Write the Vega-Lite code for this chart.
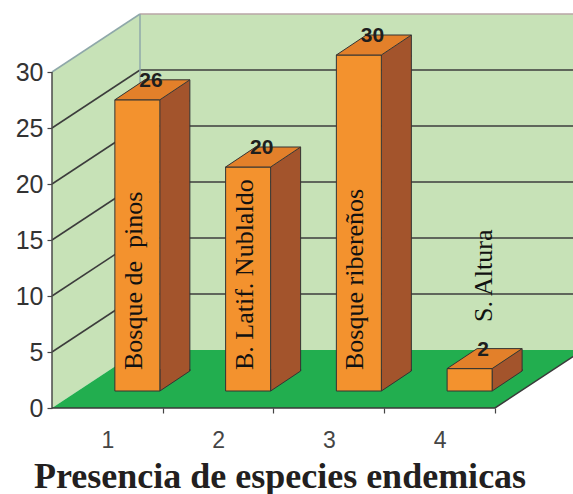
{
  "$schema": "https://vega.github.io/schema/vega-lite/v6.json",
  "width": 521,
  "height": 408,
  "autosize": {"type": "none"},
  "padding": {"left": 52, "top": 0, "right": 0, "bottom": 86},
  "background": "#ffffff",
  "config": {"view": {"stroke": null}},
  "datasets": {
    "bosques": [
      {"categoria": 1, "valor": 26, "nombre": "Bosque de\u00a0 pinos"},
      {"categoria": 2, "valor": 20, "nombre": "B. Latif. Nublaldo"},
      {"categoria": 3, "valor": 30, "nombre": "Bosque ribereños"},
      {"categoria": 4, "valor": 2, "nombre": "S. Altura"}
    ],
    "rejilla": [{"v": 5}, {"v": 10}, {"v": 15}, {"v": 20}, {"v": 25}],
    "uno": [{}]
  },
  "data": {"name": "bosques"},
  "layer": [
    {
      "data": {"name": "uno"},
      "mark": {"type": "rect", "fill": "#C7E2B7", "xOffset": 88, "yOffset": -58, "y2Offset": -58},
      "encoding": {
        "x": {"datum": 0.5, "type": "quantitative",
          "scale": {"domain": [0.5, 5.2043], "nice": false, "zero": false},
          "axis": {"values": [1, 2, 3, 4], "format": "d", "domain": false, "grid": false,
            "ticks": true, "tickSize": 5, "tickColor": "#444444", "tickWidth": 1.2,
            "tickOffset": 55.375, "labelOffset": -55.375,
            "labelFont": "Liberation Sans", "labelFontSize": 23, "labelColor": "#454545",
            "labelPadding": 16, "labelFlush": false, "labelOverlap": false,
            "title": "Presencia de especies endemicas", "titleFont": "Liberation Serif",
            "titleFontSize": 36, "titleFontWeight": "bold", "titleColor": "#231F20",
            "titleX": 227.5, "titleY": 79, "titleAlign": "center", "titleBaseline": "alphabetic"}},
        "x2": {"datum": 5.5},
        "y": {"datum": 0, "type": "quantitative",
          "scale": {"domain": [0, 36.4286], "nice": false, "zero": false},
          "axis": {"values": [0, 5, 10, 15, 20, 25, 30], "domain": false, "grid": false,
            "tickSize": 5, "tickColor": "#444444", "tickWidth": 1.2,
            "labelFont": "Liberation Sans", "labelFontSize": 25, "labelColor": "#333333",
            "labelPadding": 4, "title": null}},
        "y2": {"datum": 30}
      }
    },
    {
      "data": {"name": "uno"},
      "mark": {"type": "point", "shape": "M0,0 L0,-336 L88,-394 L88,-58 Z", "size": 4,
        "filled": true, "fill": "#C7E2B7", "strokeWidth": 0, "opacity": 1},
      "encoding": {
        "x": {"datum": 0.5, "type": "quantitative"},
        "y": {"datum": 0, "type": "quantitative"}
      }
    },
    {
      "data": {"name": "uno"},
      "mark": {"type": "point", "shape": "M0,0 L443,0 L531,-58 L88,-58 Z", "size": 4,
        "filled": true, "fill": "#22AE4F", "strokeWidth": 0, "opacity": 1},
      "encoding": {
        "x": {"datum": 0.5, "type": "quantitative"},
        "y": {"datum": 0, "type": "quantitative"}
      }
    },
    {
      "data": {"name": "rejilla"},
      "mark": {"type": "rule", "stroke": "#3c3c3c", "strokeWidth": 1.5, "x2Offset": 88, "y2Offset": -58},
      "encoding": {
        "x": {"datum": 0.5, "type": "quantitative"},
        "x2": {"datum": 0.5},
        "y": {"field": "v", "type": "quantitative"},
        "y2": {"field": "v"}
      }
    },
    {
      "data": {"name": "rejilla"},
      "mark": {"type": "rule", "stroke": "#3c3c3c", "strokeWidth": 1.5, "xOffset": 88, "yOffset": -58},
      "encoding": {
        "x": {"datum": 0.5, "type": "quantitative"},
        "x2": {"datum": 5.5},
        "y": {"field": "v", "type": "quantitative"}
      }
    },
    {
      "data": {"name": "uno"},
      "mark": {"type": "rule", "stroke": "#8FA8AA", "strokeWidth": 1.5, "x2Offset": 88, "y2Offset": -58},
      "encoding": {
        "x": {"datum": 0.5, "type": "quantitative"},
        "x2": {"datum": 0.5},
        "y": {"datum": 30, "type": "quantitative"},
        "y2": {"datum": 30}
      }
    },
    {
      "data": {"name": "uno"},
      "mark": {"type": "rule", "stroke": "#B9A6A6", "strokeWidth": 1.5, "xOffset": 88, "yOffset": -58},
      "encoding": {
        "x": {"datum": 0.5, "type": "quantitative"},
        "x2": {"datum": 5.5},
        "y": {"datum": 30, "type": "quantitative"}
      }
    },
    {
      "data": {"name": "uno"},
      "mark": {"type": "rule", "stroke": "#8FA8AA", "strokeWidth": 1.5, "xOffset": 88, "yOffset": -58, "y2Offset": -58},
      "encoding": {
        "x": {"datum": 0.5, "type": "quantitative"},
        "y": {"datum": 0, "type": "quantitative"},
        "y2": {"datum": 30}
      }
    },
    {
      "data": {"name": "uno"},
      "mark": {"type": "rule", "stroke": "#4a4a4a", "strokeWidth": 1.5},
      "encoding": {
        "x": {"datum": 0.5, "type": "quantitative"},
        "y": {"datum": 0, "type": "quantitative"},
        "y2": {"datum": 30}
      }
    },
    {
      "data": {"name": "uno"},
      "mark": {"type": "point", "shape": "M0,0 L443,0 L531,-58", "size": 4,
        "filled": false, "stroke": "#3a3a3a", "strokeWidth": 1.5, "opacity": 1},
      "encoding": {
        "x": {"datum": 0.5, "type": "quantitative"},
        "y": {"datum": 0, "type": "quantitative"}
      }
    },
    {
      "mark": {"type": "rect", "fill": "#A3542C", "xOffset": 52.5, "x2Offset": 82.5, "yOffset": -17, "y2Offset": -37},
      "encoding": {
        "x": {"field": "categoria", "type": "quantitative"},
        "x2": {"field": "categoria"},
        "y": {"field": "valor", "type": "quantitative"},
        "y2": {"datum": 0}
      }
    },
    {
      "mark": {"type": "point", "shape": "M45,-22 L45,0 L75,-20 L75,-22", "size": 4,
        "filled": true, "fill": "#A3542C", "stroke": "#333333", "strokeWidth": 1, "opacity": 1,
        "xOffset": 7.5, "yOffset": -17},
      "encoding": {
        "x": {"field": "categoria", "type": "quantitative"},
        "y": {"datum": 0, "type": "quantitative"}
      }
    },
    {
      "mark": {"type": "point", "shape": "M45,0 L75,-20 L75,2 L45,2 Z", "size": 4,
        "filled": true, "fill": "#A3542C", "strokeWidth": 0, "opacity": 1,
        "xOffset": 7.5, "yOffset": -17},
      "encoding": {
        "x": {"field": "categoria", "type": "quantitative"},
        "y": {"field": "valor", "type": "quantitative"}
      }
    },
    {
      "mark": {"type": "rule", "stroke": "#333333", "strokeWidth": 1, "xOffset": 82.5, "yOffset": -37, "y2Offset": -37},
      "encoding": {
        "x": {"field": "categoria", "type": "quantitative"},
        "y": {"field": "valor", "type": "quantitative"},
        "y2": {"datum": 0}
      }
    },
    {
      "mark": {"type": "rect", "fill": "#F3922E", "stroke": "#333333", "strokeWidth": 1,
        "xOffset": 7.5, "x2Offset": 52.5, "yOffset": -17, "y2Offset": -17},
      "encoding": {
        "x": {"field": "categoria", "type": "quantitative"},
        "x2": {"field": "categoria"},
        "y": {"field": "valor", "type": "quantitative"},
        "y2": {"datum": 0}
      }
    },
    {
      "mark": {"type": "point", "shape": "M0,0 L45,0 L75,-20 L30,-20 Z", "size": 4,
        "filled": true, "fill": "#E3802A", "stroke": "#333333", "strokeWidth": 1, "opacity": 1,
        "xOffset": 7.5, "yOffset": -17},
      "encoding": {
        "x": {"field": "categoria", "type": "quantitative"},
        "y": {"field": "valor", "type": "quantitative"}
      }
    },
    {
      "mark": {"type": "text", "font": "Liberation Sans", "fontWeight": "bold", "fontSize": 21,
        "fill": "#1e1e1e", "align": "center", "baseline": "middle", "xOffset": 43.5, "yOffset": -36},
      "encoding": {
        "x": {"field": "categoria", "type": "quantitative"},
        "y": {"field": "valor", "type": "quantitative"},
        "text": {"field": "valor", "type": "quantitative"}
      }
    },
    {
      "transform": [{"filter": "datum.categoria < 4"}],
      "mark": {"type": "text", "font": "Liberation Serif", "fontSize": 26, "fill": "#111111",
        "angle": 270, "align": "left", "baseline": "alphabetic", "xOffset": 34.5, "yOffset": -38},
      "encoding": {
        "x": {"field": "categoria", "type": "quantitative"},
        "y": {"datum": 0, "type": "quantitative"},
        "text": {"field": "nombre", "type": "nominal"}
      }
    },
    {
      "transform": [{"filter": "datum.categoria == 4"}],
      "mark": {"type": "text", "font": "Liberation Serif", "fontSize": 26, "fill": "#111111",
        "angle": 270, "align": "left", "baseline": "alphabetic", "xOffset": 52, "yOffset": -86},
      "encoding": {
        "x": {"field": "categoria", "type": "quantitative"},
        "y": {"datum": 0, "type": "quantitative"},
        "text": {"field": "nombre", "type": "nominal"}
      }
    }
  ]
}
